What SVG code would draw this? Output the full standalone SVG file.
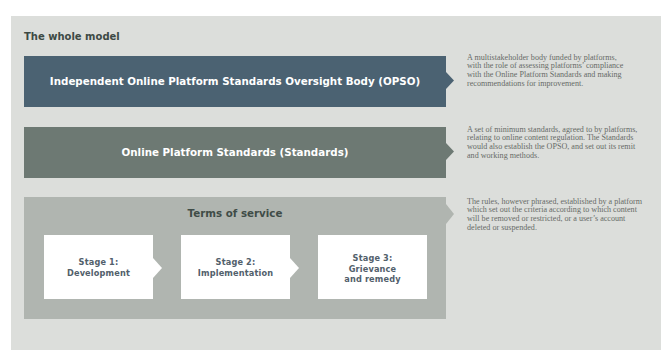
<svg xmlns="http://www.w3.org/2000/svg" width="661" height="350" viewBox="0 0 661 350">
<style>
.hd{font-family:"DejaVu Sans","Liberation Sans",sans-serif;font-weight:bold;text-anchor:middle;dominant-baseline:central;font-size:10.3px}
.desc{font-family:"Liberation Serif","DejaVu Serif",serif;font-size:8.1px;fill:#676b67}
.stage{font-family:"DejaVu Sans","Liberation Sans",sans-serif;font-weight:bold;font-size:8.2px;fill:#52606b;text-anchor:middle;letter-spacing:0.15px}
.sbox{fill:#ffffff}
</style>
<rect x="0" y="0" width="661" height="350" fill="#ffffff"/>
<rect x="11" y="16" width="650" height="334" fill="#dcdedb"/>
<text x="24" y="39.5" font-family="DejaVu Sans, Liberation Sans, sans-serif" font-weight="bold" font-size="10" fill="#3d4a45">The whole model</text>

<g id="opso">
  <rect x="24" y="56" width="422" height="51" fill="#4b6272"/>
  <text class="hd" x="235" y="81" fill="#ffffff">Independent Online Platform Standards Oversight Body (OPSO)</text>
</g>
<g id="standards">
  <rect x="24" y="127" width="422" height="51" fill="#6d7973"/>
  <text class="hd" x="235" y="152" fill="#ffffff">Online Platform Standards (Standards)</text>
</g>
<g id="terms">
  <rect x="24" y="197" width="422" height="122" fill="#b0b5b0"/>
  <text class="hd" x="235" y="213" fill="#3f4c47">Terms of service</text>
</g>
<g id="stage1">
  <rect class="sbox" x="44" y="235" width="109" height="64"/>
  <text class="stage" x="98.5" y="265">Stage 1:</text>
  <text class="stage" x="98.5" y="275.5">Development</text>
</g>
<g id="stage2">
  <rect class="sbox" x="181" y="235" width="109" height="64"/>
  <text class="stage" x="235.5" y="265">Stage 2:</text>
  <text class="stage" x="235.5" y="275.5">Implementation</text>
</g>
<g id="stage3">
  <rect class="sbox" x="318" y="235" width="109" height="64"/>
  <text class="stage" x="372.5" y="261">Stage 3:</text>
  <text class="stage" x="372.5" y="271.5">Grievance</text>
  <text class="stage" x="372.5" y="282">and remedy</text>
</g>

<g id="connectors">
  <polygon points="446,72 454,80.5 446,89" fill="#4b6272"/>
  <polygon points="446,143 454,151.5 446,160" fill="#6d7973"/>
  <polygon points="446,204 454,214 446,224" fill="#b0b5b0"/>
  <polygon points="153,258 162,268 153,278" fill="#ffffff"/>
  <polygon points="290,258 299,268 290,278" fill="#ffffff"/>
</g>

<g id="desc-opso">
  <text class="desc" x="467" y="59.5">A multistakeholder body funded by platforms,</text>
  <text class="desc" x="467" y="68.2">with the role of assessing platforms’ compliance</text>
  <text class="desc" x="467" y="76.9">with the Online Platform Standards and making</text>
  <text class="desc" x="467" y="85.6">recommendations for improvement.</text>
</g>
<g id="desc-standards">
  <text class="desc" x="467" y="131.7">A set of minimum standards, agreed to by platforms,</text>
  <text class="desc" x="467" y="140.4">relating to online content regulation. The Standards</text>
  <text class="desc" x="467" y="149.1">would also establish the OPSO, and set out its remit</text>
  <text class="desc" x="467" y="157.8">and working methods.</text>
</g>
<g id="desc-terms">
  <text class="desc" x="467" y="203.5">The rules, however phrased, established by a platform</text>
  <text class="desc" x="467" y="212.2">which set out the criteria according to which content</text>
  <text class="desc" x="467" y="220.9">will be removed or restricted, or a user’s account</text>
  <text class="desc" x="467" y="229.6">deleted or suspended.</text>
</g>
</svg>
